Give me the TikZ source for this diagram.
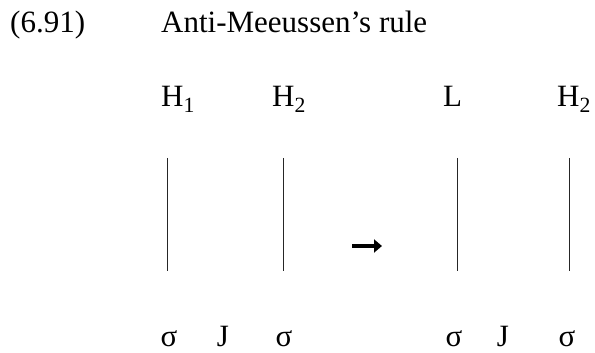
\documentclass[tikz,border=0pt]{standalone}
\usepackage{fontspec}
\setmainfont{Liberation Serif}
\newfontfamily\timesfont{Liberation Serif}
\usetikzlibrary{arrows.meta,positioning}

\begin{document}
\begin{tikzpicture}[x=1pt,y=1pt,font=\timesfont\fontsize{31}{36}\selectfont,
    tone/.style={anchor=base west,inner sep=0pt},
    unit/.style={anchor=base,inner sep=0pt},
    assoc/.style={line width=1pt,draw=black!85}]
        \useasboundingbox (0,0) rectangle (595,353);
        \node[tone] (exno) at (10,320) {(6.91)};
        \node[tone] (title) at (161,320) {Anti-Meeussen’s rule};

        % tones
        \node[tone] (h1) at (161,246) {H\textsubscript{1}};
        \node[tone] (h2) at (272,246) {H\textsubscript{2}};
        \node[tone] (lo) at (443,246) {L};
        \node[tone] (h2b) at (557,246) {H\textsubscript{2}};

        % association lines
        \foreach \i/\x in {1/167,2/283,3/457,4/569} {
          \coordinate (top\i) at (\x,195);
          \coordinate (bot\i) at (\x,82);
          \draw[assoc] (top\i) -- (bot\i);
        }

        % rule arrow
        \coordinate (arrL) at (352,107);
        \coordinate (arrR) at (382,107);
        \draw[line width=4pt,-{Triangle[length=8pt,width=13pt]}] (arrL) -- (arrR);

        % syllables and juncture
        \foreach \n/\x/\lab in {s1/169/σ,j1/223/J,s2/284/σ,s3/454/σ,j2/503/J,s4/567/σ}
          \node[unit] (\n) at (\x,6) {\lab};
      \end{tikzpicture}
\end{document}
